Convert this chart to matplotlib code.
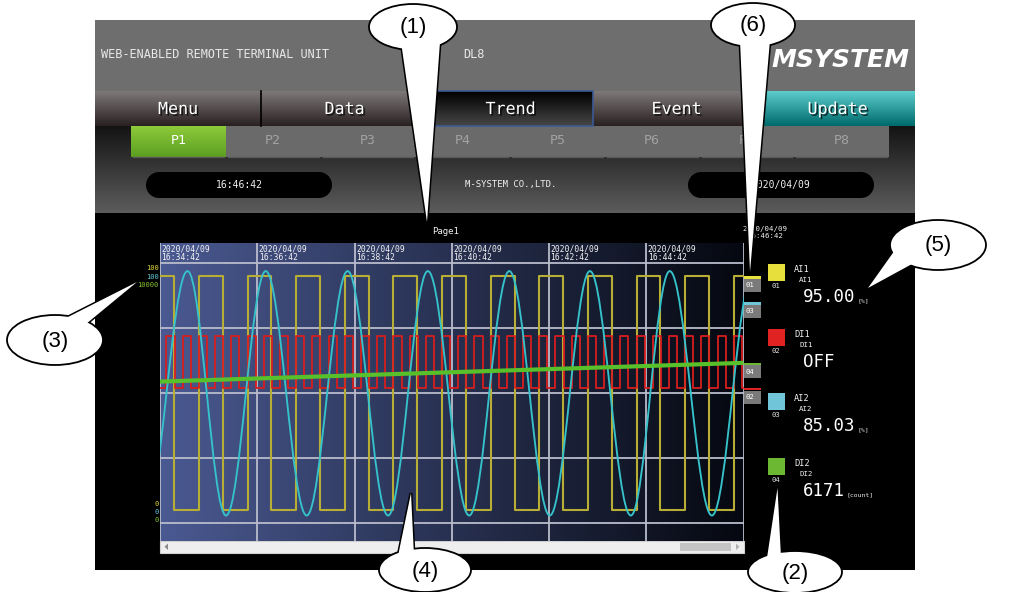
import numpy as np
import matplotlib
matplotlib.use("Agg")
import matplotlib.pyplot as plt
from matplotlib.patches import Rectangle, Ellipse, Polygon, FancyBboxPatch, PathPatch
from matplotlib.path import Path
import matplotlib.patheffects as pe

# ---------------- data ----------------
date_label = "2020/04/09"
time_labels = ["16:34:42", "16:36:42", "16:38:42", "16:40:42", "16:42:42", "16:44:42"]
grid_t = [0, 120, 240, 360, 480, 600, 720]          # seconds from 16:34:42
grid_v = [0, 25, 50, 75, 100]                         # percent of span

# AI1 (yellow): square wave 5 <-> 95 %
ai1_fall = [17.5, 77.5, 137.5, 197.5, 257.5, 317.5, 377.5, 437.5, 497.5, 557.5, 617.5, 677.5]
ai1_rise = [48, 108, 168, 228, 288, 348, 408, 468, 528, 588, 648, 708]
ai1_high, ai1_low, ai1_start = 95.0, 5.0, 95.0

# DI1 (red): on/off square wave drawn between 52 and 72 % of the chart
di1_on = [8, 28, 48, 68, 88, 108, 128, 148, 168, 188, 208, 228, 248, 268, 288, 308, 328, 348,
          368, 388, 408, 428, 448, 468, 488, 508, 528, 548, 568, 588, 608, 628, 648, 668, 688, 708]
di1_off = [18, 38, 58, 78, 98, 118, 138, 158, 178, 198, 218, 238, 258, 278, 298, 318, 338, 358,
           378, 398, 418, 438, 458, 478, 498, 518, 538, 558, 578, 598, 618, 638, 658, 678, 698, 718]
di1_high, di1_low = 72.0, 52.0

# AI2 (cyan): sine-like wave, extrema (time, %)
ai2_ext_t = [-18, 34, 81.5, 130.5, 181, 231.5, 281.5, 330.5, 381.5, 431, 481, 530.5, 581, 629, 681, 732]
ai2_ext_v = [3, 97, 3, 97, 3, 97, 3, 97, 3, 97, 3, 97, 3, 97, 3, 97]
ai2_now = 85.03

# DI2 (green): counter 0..10000
di2_t = [0, 120, 240, 360, 480, 600, 720]
di2_count = [5450, 5570, 5690, 5810, 5930, 6050, 6171]
di2_span = 10000

ch_ids = ["01", "02", "03", "04"]
ch_names = ["AI1", "DI1", "AI2", "DI2"]
ch_values = ["95.00", "OFF", "85.03", "6171"]
ch_units = ["[%]", "", "[%]", "[count]"]
ch_colors = ["#e6df3c", "#e02222", "#70c6d8", "#6cb832"]

tabs = ["Menu", "Data", "Trend", "Event", "Update"]
pages = ["P1", "P2", "P3", "P4", "P5", "P6", "P7", "P8"]
callout_labels = ["(1)", "(2)", "(3)", "(4)", "(5)", "(6)"]

MONO = "DejaVu Sans Mono"
SANS = ["Liberation Sans", "DejaVu Sans"]

# ---------------- figure ----------------
fig = plt.figure(figsize=(10.09, 5.92), dpi=100)
fig.patch.set_facecolor("white")
ui = fig.add_axes([0, 0, 1, 1], zorder=0)
ui.axis("off")


def vgrad(ax, x0, y0, x1, y1, ctop, cbot, z=1):
    c0 = np.array(matplotlib.colors.to_rgb(ctop))
    c1 = np.array(matplotlib.colors.to_rgb(cbot))
    f = np.linspace(0, 1, 64)[:, None]
    img = (c0 * (1 - f) + c1 * f)[:, None, :]
    ax.imshow(img, extent=[x0, x1, y1, y0], aspect="auto", zorder=z, interpolation="bilinear")


# header
ui.add_patch(Rectangle((95, 20), 820, 71, fc="#6e6e6e", ec="none", zorder=1))
ui.text(101, 54.5, "WEB-ENABLED REMOTE TERMINAL UNIT", color="#e8e8e8", fontsize=8.6,
        family=MONO, va="center", ha="left", zorder=3)
ui.text(463, 54.5, "DL8", color="#e8e8e8", fontsize=8.6, family=MONO, va="center", zorder=3)
ui.text(840, 60, "MSYSTEM", color="white", fontsize=18, family="DejaVu Sans", weight="bold",
        style="italic", va="center", ha="center", zorder=3)

# tabs
tab_x = [95, 261, 428, 593, 760, 915]
for i, name in enumerate(tabs):
    x0, x1 = tab_x[i], tab_x[i + 1]
    if name == "Trend":
        vgrad(ui, x0, 91, x1, 126, "#000000", "#464646", z=2)
        ui.add_patch(Rectangle((x0, 91), x1 - x0, 35, fc="none", ec="#3b5a96", lw=1.2, zorder=3))
    elif name == "Update":
        vgrad(ui, x0, 91, x1, 126, "#5ccccc", "#006a6c", z=2)
    else:
        vgrad(ui, x0, 91, x1, 126, "#7e7879", "#2a2121", z=2)
    ui.text((x0 + x1) / 2, 109, name, color="white", fontsize=12, family=MONO, ha="center",
            va="center", zorder=4,
            path_effects=[pe.withSimplePatchShadow(offset=(1.2, -1.2), shadow_rgbFace="black", alpha=0.7)])
ui.plot([261, 261], [91, 126], color="black", lw=1.2, zorder=3)

# page row + status strip background
vgrad(ui, 95, 126, 915, 213, "#141414", "#5c5c5c", z=1)
pw = (889 - 131) / len(pages)
for i, p in enumerate(pages):
    x0 = 131 + i * pw
    if i == 0:
        vgrad(ui, x0, 126, x0 + pw, 157, "#8dcb3a", "#5c9e22", z=2)
        col = "white"
    else:
        ui.add_patch(Rectangle((x0, 126), pw, 31, fc="#6a6a6a", ec="none", zorder=2))
        col = "#a2a2a2"
    ui.plot([x0 + 2, x0 + pw - 2], [156.5, 156.5], color="#595959", lw=1, zorder=3)
    ui.text(x0 + pw / 2, 141, p, color=col, fontsize=9.5, family=MONO, ha="center", va="center", zorder=4)

# pills
for (x0, x1, txt) in [(146, 332, "16:46:42"), (688, 874, "2020/04/09")]:
    ui.add_patch(FancyBboxPatch((x0 + 13, 172), x1 - x0 - 26, 26,
                                boxstyle="round,pad=0,rounding_size=13", fc="black", ec="none", zorder=3,
                                mutation_aspect=1))
    ui.add_patch(Ellipse((x0 + 13, 185), 26, 26, fc="black", ec="none", zorder=3))
    ui.add_patch(Ellipse((x1 - 13, 185), 26, 26, fc="black", ec="none", zorder=3))
    ui.add_patch(Rectangle((x0 + 13, 172), x1 - x0 - 26, 26, fc="black", ec="none", zorder=3))
    ui.text((x0 + x1) / 2, 185, txt, color="#f0f0f0", fontsize=7, family=MONO, ha="center",
            va="center", zorder=4)
ui.text(511, 184, "M-SYSTEM CO.,LTD.", color="#f0f0f0", fontsize=6.5, family=MONO, ha="center",
        va="center", zorder=4)

# black trend area
ui.add_patch(Rectangle((95, 213), 820, 357, fc="black", ec="none", zorder=1))
ui.text(446, 232, "Page1", color="#f0f0f0", fontsize=6.5, family=MONO, ha="center", va="center", zorder=4)
ui.text(765, 232.5, date_label + "\n16:46:42", color="#f0f0f0", fontsize=5.3, family=MONO, ha="center",
        va="center", linespacing=1.0, zorder=4)

# scrollbar
ui.add_patch(Rectangle((160, 540.7), 583.5, 12, fc="#eeeeee", ec="#d0d0d0", lw=0.8, zorder=2))
ui.add_patch(Rectangle((680, 542.8), 51, 8, fc="#c4c4c4", ec="none", zorder=3))
ui.add_patch(Polygon([(168, 543.5), (168, 550), (164.5, 546.7)], fc="#8a8a8a", ec="none", zorder=3))
ui.add_patch(Polygon([(736, 543.5), (736, 550), (739.5, 546.7)], fc="#b0b0b0", ec="none", zorder=3))

# right legend panel
sq_top = [264, 329.3, 393.3, 458.3]
for i in range(4):
    y0 = sq_top[i]
    ui.add_patch(Rectangle((768, y0), 16.5, 16.5, fc=ch_colors[i], ec="none", zorder=3))
    ui.text(776.2, y0 + 21.5, ch_ids[i], color="#e0e0e0", fontsize=5.2, family=MONO, ha="center",
            va="center", zorder=4)
    ui.text(794, y0 + 5, ch_names[i], color="#f2f2f2", fontsize=6.2, family=MONO, ha="left",
            va="center", zorder=4)
    ui.text(799, y0 + 16, ch_names[i], color="#f2f2f2", fontsize=5.3, family=MONO, ha="left",
            va="center", zorder=4)
    ui.text(803, y0 + 32.5, ch_values[i], color="white", fontsize=12.5, family=MONO, ha="left",
            va="center", zorder=4)
    if ch_units[i]:
        ux = 847 if ch_units[i] == "[count]" else 857.5
        ui.text(ux, y0 + 36.5, ch_units[i], color="#e8e8e8", fontsize=4.6, family=MONO, ha="left",
                va="center", zorder=4)

ui.set_xlim(0, 1009)
ui.set_ylim(592, 0)

# ---------------- trend chart ----------------
W, H = 1009.0, 592.0
px_l, px_r, px_t, px_b = 160.0, 743.5, 243.3, 540.7
ax = fig.add_axes([px_l / W, 1 - px_b / H, (px_r - px_l) / W, (px_b - px_t) / H], zorder=1)
ax.axis("off")
y_lo, y_hi = -6.69, 107.69

cl = np.array([0.29, 0.35, 0.57])
cr = np.array([0.02, 0.03, 0.06])
f = np.linspace(0, 1, 256)[None, :, None]
ax.imshow(cl * (1 - f) + cr * f, extent=[0, 720, y_lo, y_hi], aspect="auto", zorder=0,
          interpolation="bilinear")

for v in grid_v:
    ax.plot([0, 720], [v, v], color="#b9bccb", lw=1.3, zorder=1, solid_capstyle="butt")
for t in grid_t:
    ax.plot([t, t], [y_lo, y_hi], color="#b9bccb", lw=1.3, zorder=1, solid_capstyle="butt")
for t, lab in zip(grid_t[:-1], time_labels):
    ax.text(t + 1.8, 107.2, date_label + "\n" + lab, color="#f4f4f4", fontsize=5.8, family=MONO,
            ha="left", va="top", linespacing=0.95, zorder=2)

# AI1 step trace
ev = sorted([(t, ai1_high) for t in ai1_rise] + [(t, ai1_low) for t in ai1_fall])
xs = [0] + [e[0] for e in ev] + [720]
ys = [ai1_start] + [e[1] for e in ev] + [ev[-1][1]]
ax.step(xs, ys, where="post", color="#b8ae36", lw=1.5, zorder=3)
ai1_now = ys[-1]

# DI1 step trace
ev = sorted([(t, di1_high) for t in di1_on] + [(t, di1_low) for t in di1_off])
xs = [0] + [e[0] for e in ev] + [720]
ys = [di1_low] + [e[1] for e in ev] + [ev[-1][1]]
ax.step(xs, ys, where="post", color="#d81e1e", lw=1.3, zorder=4)
di1_now = ys[-1]

# AI2 smooth trace through extrema (cubic Bezier segments)
verts = [(ai2_ext_t[0], ai2_ext_v[0])]
codes = [Path.MOVETO]
for i in range(len(ai2_ext_t) - 1):
    t0, t1 = ai2_ext_t[i], ai2_ext_t[i + 1]
    v0, v1 = ai2_ext_v[i], ai2_ext_v[i + 1]
    k = 0.3634 * (t1 - t0)
    verts += [(t0 + k, v0), (t1 - k, v1), (t1, v1)]
    codes += [Path.CURVE4] * 3
ax.add_patch(PathPatch(Path(verts, codes), fill=False, ec="#36c2cb", lw=1.35, zorder=5))

# DI2 counter trace
di2_pct = [c / di2_span * 100 for c in di2_count]
ax.plot(di2_t, di2_pct, color="#58c02a", lw=3.0, zorder=6, solid_capstyle="butt")

# scale labels on the left
for txt, dy, col in [("100", -4.4, "#e0d840"), ("100", -13.4, "#62c8d8"), ("10000", -21.4, "#84c236")]:
    ax.annotate(txt, xy=(0, 100), xytext=(-1.5, dy), textcoords="offset pixels", ha="right", va="center",
                color=col, fontsize=5, family=MONO, annotation_clip=False)
for dy, col in [(19.3, "#e0d840"), (11.3, "#62c8d8"), (3.3, "#84c236")]:
    ax.annotate("0", xy=(0, 0), xytext=(-1.5, dy), textcoords="offset pixels", ha="right", va="center",
                color=col, fontsize=5, family=MONO, annotation_clip=False)

# current-value markers at the right edge
for cid, val, col in [("01", ai1_now, ch_colors[0]), ("03", ai2_now, ch_colors[2]),
                      ("04", di2_pct[-1], ch_colors[3]), ("02", di1_now, ch_colors[1])]:
    ax.add_patch(Rectangle((720, val - 0.9), 21, 0.9, fc=col, ec="none", clip_on=False, zorder=7))
    ax.add_patch(Rectangle((720, val - 6.0), 21, 5.0, fc="#7a7a7a", ec="none", clip_on=False, zorder=7))
    ax.text(722, val - 3.5, cid, color="white", fontsize=5.2, family=MONO, ha="left", va="center",
            clip_on=False, zorder=8)

ax.set_xlim(0, 720)
ax.set_ylim(y_lo, y_hi)

# ---------------- callouts (overlay) ----------------
ov = fig.add_axes([0, 0, 1, 1], zorder=2)
ov.axis("off")
ov.patch.set_alpha(0)
callouts = [
    # label, ellipse centre, w, h, base1, base2, tip
    ("(1)", (413, 27), 88, 46, (401, 42), (440, 42), (427, 222)),
    ("(2)", (795, 572), 94, 42, (767, 558), (781, 558), (777.5, 488)),
    ("(3)", (55, 340), 96, 50, (66, 318), (86, 324), (137, 282)),
    ("(4)", (425, 570), 92, 44, (398, 556), (414, 556), (411, 493)),
    ("(5)", (938, 245), 96, 50, (895, 250), (912, 264), (868, 288)),
    ("(6)", (753, 25), 84, 44, (740, 40), (770, 40), (750, 272)),
]
for lab, c, w, h, b1, b2, tip in callouts:
    ov.add_patch(Polygon([b1, tip, b2], closed=True, fc="white", ec="black", lw=2.2, zorder=10,
                         joinstyle="miter"))
    ov.add_patch(Ellipse(c, w, h, fc="white", ec="black", lw=1.3, zorder=11))
    ov.add_patch(Polygon([b1, tip, b2], closed=True, fc="white", ec="none", zorder=12))
    ov.text(c[0], c[1] + 1, lab, color="black", fontsize=16, family=SANS, ha="center", va="center",
            zorder=13)
ov.set_xlim(0, 1009)
ov.set_ylim(592, 0)

fig.savefig("out.png", dpi=100, facecolor="white")
